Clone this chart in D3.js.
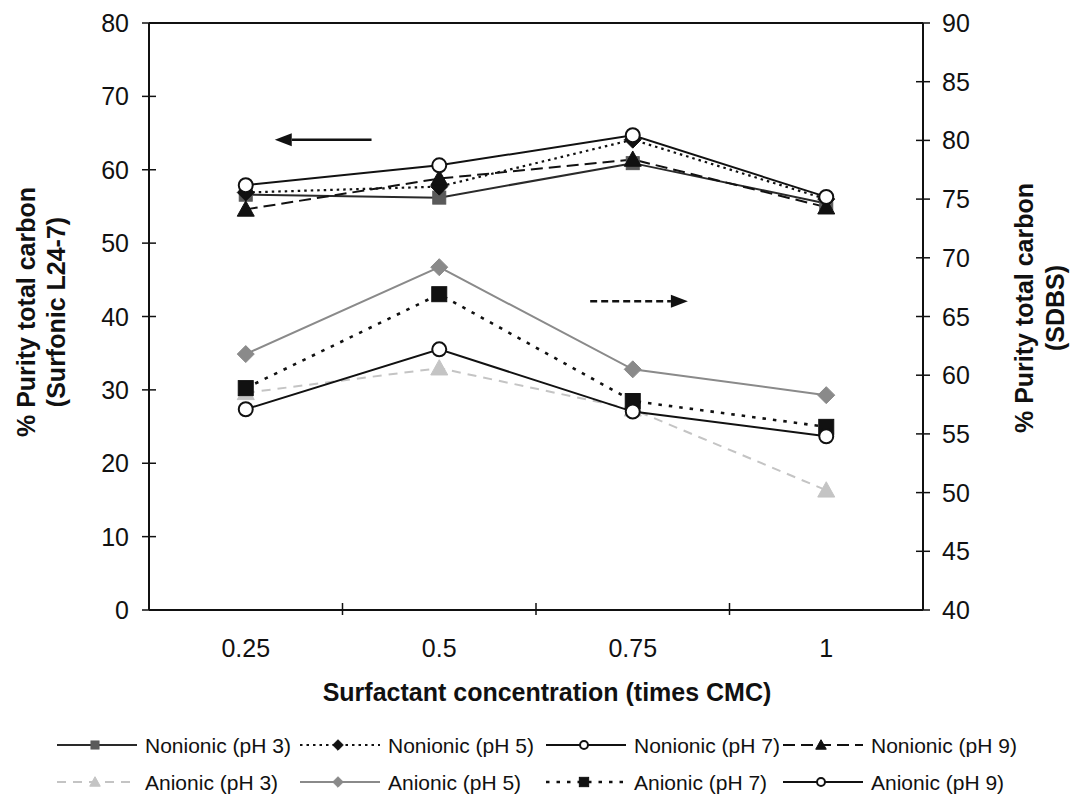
<!DOCTYPE html>
<html>
<head>
<meta charset="utf-8">
<script src="https://cdn.jsdelivr.net/npm/d3@7"></script>
<style>
  html, body { margin: 0; padding: 0; background: #fff; }
  svg { display: block; font-family: "Liberation Sans", Arial, sans-serif; }
</style>
</head>
<body>
<svg id="chart" width="1076" height="798"></svg>
<script>
// Surfactant concentration categories (times CMC)
const categories = ["0.25", "0.5", "0.75", "1"];

// Nonionic surfactant (Surfonic L24-7), left axis
const nonionicPH3 = [56.6, 56.2, 60.9, 55.4];
const nonionicPH5 = [56.9, 57.7, 64.1, 56.0];
const nonionicPH7 = [57.9, 60.6, 64.7, 56.3];
const nonionicPH9 = [54.6, 58.8, 61.4, 54.9];

// Anionic surfactant (SDBS), right axis
const anionicPH3 = [58.5, 60.6, 57.1, 50.2];
const anionicPH5 = [61.8, 69.2, 60.5, 58.3];
const anionicPH7 = [58.9, 66.9, 57.8, 55.6];
const anionicPH9 = [57.1, 62.2, 56.9, 54.8];

// Axis ticks
const leftTicks = [0, 10, 20, 30, 40, 50, 60, 70, 80];
const rightTicks = [40, 45, 50, 55, 60, 65, 70, 75, 80, 85, 90];

const svg = d3.select("#chart");
const plot = { left: 149, right: 923, top: 23, bottom: 610 };

const x = d3.scaleBand().domain(categories).range([plot.left, plot.right]);
const yL = d3.scaleLinear().domain([0, 80]).range([plot.bottom, plot.top]);
const yR = d3.scaleLinear().domain([40, 90]).range([plot.bottom, plot.top]);
const cx = c => x(c) + x.bandwidth() / 2;

const tickFont = 25, titleFont = 25, legendFont = 21;

// Series definitions: style per series
const series = [
  { name: "Nonionic (pH 3)", values: nonionicPH3, axis: yL, stroke: "#2a2a2a", width: 2, dash: null, marker: "square", fill: "#5a5a5a", mstroke: "#5a5a5a", size: 13 },
  { name: "Nonionic (pH 5)", values: nonionicPH5, axis: yL, stroke: "#111", width: 2.2, dash: "2.5,4", marker: "diamond", fill: "#111", mstroke: "#111", size: 17 },
  { name: "Nonionic (pH 7)", values: nonionicPH7, axis: yL, stroke: "#111", width: 2, dash: null, marker: "circle", fill: "#fff", mstroke: "#111", size: 16 },
  { name: "Nonionic (pH 9)", values: nonionicPH9, axis: yL, stroke: "#111", width: 2, dash: "12,6", marker: "triangle", fill: "#111", mstroke: "#111", size: 17 },
  { name: "Anionic (pH 3)", values: anionicPH3, axis: yR, stroke: "#c4c4c4", width: 2, dash: "9,7", marker: "triangle", fill: "#c4c4c4", mstroke: "#c4c4c4", size: 17 },
  { name: "Anionic (pH 5)", values: anionicPH5, axis: yR, stroke: "#8a8a8a", width: 2, dash: null, marker: "diamond", fill: "#8a8a8a", mstroke: "#8a8a8a", size: 17 },
  { name: "Anionic (pH 7)", values: anionicPH7, axis: yR, stroke: "#111", width: 2.6, dash: "3.5,7", marker: "square", fill: "#111", mstroke: "#111", size: 15 },
  { name: "Anionic (pH 9)", values: anionicPH9, axis: yR, stroke: "#111", width: 2, dash: null, marker: "circle", fill: "#fff", mstroke: "#111", size: 16 }
];

function drawMarker(g, type, px, py, size, fill, stroke) {
  const h = size / 2;
  if (type === "circle") {
    g.append("circle").attr("cx", px).attr("cy", py).attr("r", h - 1)
      .attr("fill", fill).attr("stroke", stroke).attr("stroke-width", 2);
  } else if (type === "square") {
    g.append("rect").attr("x", px - h).attr("y", py - h).attr("width", size).attr("height", size)
      .attr("fill", fill).attr("stroke", stroke).attr("stroke-width", 1);
  } else if (type === "diamond") {
    g.append("path").attr("d", `M${px},${py - h}L${px + h},${py}L${px},${py + h}L${px - h},${py}Z`)
      .attr("fill", fill).attr("stroke", stroke).attr("stroke-width", 1);
  } else if (type === "triangle") {
    g.append("path").attr("d", `M${px},${py - h}L${px + h},${py + h * 0.8}L${px - h},${py + h * 0.8}Z`)
      .attr("fill", fill).attr("stroke", stroke).attr("stroke-width", 1);
  }
}

// Plot frame: top edge
svg.append("line").attr("x1", plot.left).attr("x2", plot.right)
  .attr("y1", plot.top).attr("y2", plot.top).attr("stroke", "#111").attr("stroke-width", 2);

// Left axis
svg.append("line").attr("x1", plot.left).attr("x2", plot.left)
  .attr("y1", plot.top).attr("y2", plot.bottom).attr("stroke", "#111").attr("stroke-width", 2);
leftTicks.forEach(t => {
  svg.append("line").attr("x1", plot.left - 7).attr("x2", plot.left + 7)
    .attr("y1", yL(t)).attr("y2", yL(t)).attr("stroke", "#111").attr("stroke-width", 1.5);
  svg.append("text").attr("x", plot.left - 20).attr("y", yL(t)).attr("dy", "0.36em")
    .attr("text-anchor", "end").attr("font-size", tickFont).attr("fill", "#111").text(t);
});

// Right axis
svg.append("line").attr("x1", plot.right).attr("x2", plot.right)
  .attr("y1", plot.top).attr("y2", plot.bottom).attr("stroke", "#111").attr("stroke-width", 2);
rightTicks.forEach(t => {
  svg.append("line").attr("x1", plot.right - 7).attr("x2", plot.right + 7)
    .attr("y1", yR(t)).attr("y2", yR(t)).attr("stroke", "#111").attr("stroke-width", 1.5);
  svg.append("text").attr("x", plot.right + 19).attr("y", yR(t)).attr("dy", "0.36em")
    .attr("text-anchor", "start").attr("font-size", tickFont).attr("fill", "#111").text(t);
});

// Bottom axis with ticks between categories
svg.append("line").attr("x1", plot.left).attr("x2", plot.right)
  .attr("y1", plot.bottom).attr("y2", plot.bottom).attr("stroke", "#111").attr("stroke-width", 2);
categories.forEach((c, i) => {
  if (i > 0) {
    svg.append("line").attr("x1", x(c)).attr("x2", x(c))
      .attr("y1", plot.bottom - 7).attr("y2", plot.bottom + 5).attr("stroke", "#111").attr("stroke-width", 1.5);
  }
  svg.append("text").attr("x", cx(c)).attr("y", 648).attr("dy", "0.36em")
    .attr("text-anchor", "middle").attr("font-size", tickFont).attr("fill", "#111").text(c);
});

// Axis titles
svg.append("text").attr("x", (plot.left + plot.right) / 2 + 11).attr("y", 692).attr("dy", "0.36em")
  .attr("text-anchor", "middle").attr("font-size", titleFont).attr("font-weight", "bold").attr("fill", "#111")
  .text("Surfactant concentration (times CMC)");

const leftTitle = svg.append("text").attr("transform", "translate(0,312) rotate(-90)")
  .attr("text-anchor", "middle").attr("font-size", titleFont).attr("font-weight", "bold").attr("fill", "#111");
leftTitle.append("tspan").attr("x", 0).attr("y", 26).attr("dy", "0.36em").text("% Purity total carbon");
leftTitle.append("tspan").attr("x", 0).attr("y", 56).attr("dy", "0.36em").text("(Surfonic L24-7)");

const rightTitle = svg.append("text").attr("transform", "translate(0,308) rotate(-90)")
  .attr("text-anchor", "middle").attr("font-size", titleFont).attr("font-weight", "bold").attr("fill", "#111");
rightTitle.append("tspan").attr("x", 0).attr("y", 1024).attr("dy", "0.36em").text("% Purity total carbon");
rightTitle.append("tspan").attr("x", 0).attr("y", 1055).attr("dy", "0.36em").text("(SDBS)");

// Series lines and markers (anionic drawn first, nonionic on top)
const order = [4, 5, 6, 7, 0, 1, 3, 2];
order.forEach(idx => {
  const s = series[idx];
  const line = d3.line().x((d, i) => cx(categories[i])).y(d => s.axis(d));
  svg.append("path").datum(s.values).attr("d", line).attr("fill", "none")
    .attr("stroke", s.stroke).attr("stroke-width", s.width)
    .attr("stroke-dasharray", s.dash);
});
order.forEach(idx => {
  const s = series[idx];
  const g = svg.append("g");
  s.values.forEach((v, i) => drawMarker(g, s.marker, cx(categories[i]), s.axis(v), s.size, s.fill, s.mstroke));
});

// Direction arrows: nonionic -> left axis, anionic -> right axis
const arrowStep = x.bandwidth();
function arrow(x1, x2, yy, dash) {
  const dir = Math.sign(x2 - x1);
  const headLen = 17, headHalf = 6.5;
  svg.append("line").attr("x1", x1).attr("x2", x2 - dir * headLen).attr("y1", yy).attr("y2", yy)
    .attr("stroke", "#111").attr("stroke-width", 2.5).attr("stroke-dasharray", dash);
  svg.append("path").attr("d", `M${x2},${yy}L${x2 - dir * headLen},${yy - headHalf}L${x2 - dir * headLen},${yy + headHalf}Z`)
    .attr("fill", "#111");
}
arrow(cx("0.25") + 0.65 * arrowStep, cx("0.25") + 0.15 * arrowStep, yL(64.1), null);
arrow(cx("0.75") - 0.22 * arrowStep, cx("0.75") + 0.285 * arrowStep, yR(66.3), "7,4");

// Legend: two rows of four columns (text start positions)
const legendCols = [145, 388, 634, 871];
const legendRows = [745, 782];
series.forEach((s, i) => {
  const col = legendCols[i % 4], row = legendRows[Math.floor(i / 4)];
  svg.append("line").attr("x1", col - 88).attr("x2", col - 8).attr("y1", row).attr("y2", row)
    .attr("stroke", s.stroke).attr("stroke-width", s.width === 2.6 ? 2.4 : 1.8)
    .attr("stroke-dasharray", s.dash);
  drawMarker(svg, s.marker, col - 50, row, s.size * 0.62, s.fill, s.mstroke);
  svg.append("text").attr("x", col).attr("y", row).attr("dy", "0.36em")
    .attr("font-size", legendFont).attr("fill", "#111").text(s.name);
});
</script>
</body>
</html>
